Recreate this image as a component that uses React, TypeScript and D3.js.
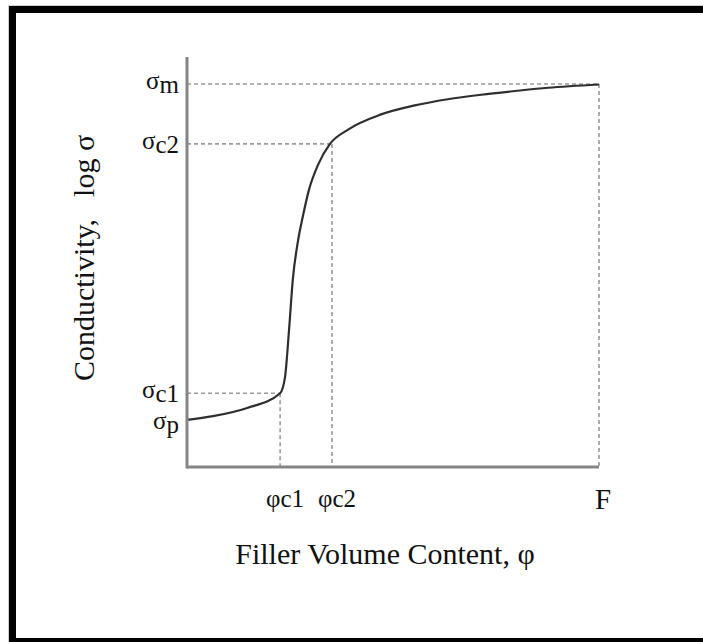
import React from "react";
import * as d3 from "d3";

// curve (x: % of F, y: % of axis height)
const curveX = [0, 6.3, 14.6, 22.6, 23.8, 24.8, 25.7, 26.9, 28.2, 29.6, 31.8, 34.7, 39.1, 47.1, 55.3, 63.3, 71.4, 79.6, 87.6, 100];
const curveY = [11.5, 12.4, 14.4, 18.0, 22.0, 33.9, 45.9, 54.9, 61.5, 67.6, 73.7, 78.8, 82.3, 86.0, 88.2, 89.7, 90.8, 91.7, 92.5, 93.3];

const sigmaSubs = ["m", "c2", "c1", "p"];
const sigmaValues = [93.4, 78.8, 18.0, 10.5];
const phiSubs = ["c1", "c2"];
const phiValues = [22.6, 35.2];
const endLabel = "F";

const W = 703;
const H = 642;
const serif = "'Liberation Serif', 'Times New Roman', serif";

export default function App() {
  const x = d3.scaleLinear().domain([0, 100]).range([187, 599]);
  const y = d3.scaleLinear().domain([0, 100]).range([467, 57]);

  const pts: [number, number][] = curveX.map((v, i) => [v, curveY[i]]);
  const line = d3
    .line<[number, number]>()
    .x((d) => x(d[0]))
    .y((d) => y(d[1]))
    .curve(d3.curveMonotoneX);

  // dashed guides: sigma_m -> F, sigma_c2 -> phi_c2, sigma_c1 -> phi_c1
  const guides = [
    { gx: 100, gy: sigmaValues[0] },
    { gx: phiValues[1], gy: sigmaValues[1] },
    { gx: phiValues[0], gy: sigmaValues[2] },
  ];

  return (
    <svg
      width={W}
      height={H}
      style={{ position: "absolute", left: 0, top: 0, background: "#fff" }}
    >
      <rect x={8.5} y={5.5} width={720} height={660} fill="none" stroke="#cfcfcf" strokeWidth={1} />
      <rect x={12.5} y={9.5} width={700} height={632} fill="none" stroke="#000" strokeWidth={7} />

      {guides.map((g, i) => (
        <g key={i} stroke="#9a9a9a" strokeWidth={1.6} strokeDasharray="4,3" fill="none">
          <line x1={x(0)} x2={x(g.gx)} y1={y(g.gy)} y2={y(g.gy)} />
          <line x1={x(g.gx)} x2={x(g.gx)} y1={y(g.gy)} y2={y(0)} />
        </g>
      ))}

      <path d={line(pts) ?? ""} fill="none" stroke="#2e2e2e" strokeWidth={2.2} />

      <g stroke="#858585" strokeWidth={3} fill="none">
        <line x1={x(0)} x2={x(0)} y1={y(100)} y2={y(0) + 1.5} />
        <line x1={x(0)} x2={x(100)} y1={y(0)} y2={y(0)} />
      </g>

      <g fontFamily={serif} fill="#111" fontSize={25}>
        {sigmaSubs.map((s, i) => (
          <text key={s} x={179} y={y(sigmaValues[i]) + 5} textAnchor="end">
            σ
            <tspan dy={4}>{s}</tspan>
          </text>
        ))}
        {phiSubs.map((s, i) => (
          <text key={s} x={x(phiValues[i]) + 5} y={507} textAnchor="middle">
            φ<tspan>{s}</tspan>
          </text>
        ))}
        <text x={x(100) + 4} y={509} textAnchor="middle" fontSize={29}>
          {endLabel}
        </text>
      </g>

      <g fontFamily={serif} fill="#111" fontSize={30}>
        <text x={385} y={564} textAnchor="middle">
          Filler Volume Content, φ
        </text>
        <text transform="translate(94,258) rotate(-90)" textAnchor="middle">
          Conductivity,<tspan dx={22}>log σ</tspan>
        </text>
      </g>
    </svg>
  );
}
